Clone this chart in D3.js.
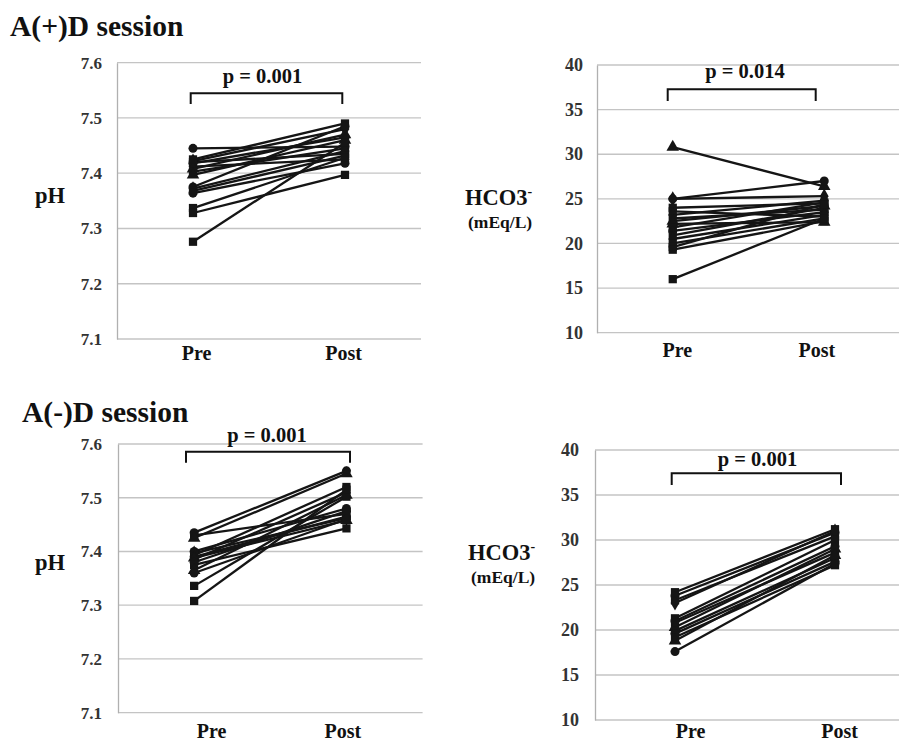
<!DOCTYPE html>
<html><head><meta charset="utf-8">
<script src="https://cdn.jsdelivr.net/npm/d3@7/dist/d3.min.js"></script>
<style>
html,body{margin:0;padding:0;background:#fff;}
svg{display:block;}
svg text{font-family:"Liberation Serif","Times New Roman",Times,"DejaVu Serif",serif;font-weight:bold;}
</style></head>
<body><svg id="chart" width="899" height="742"></svg>
<script>
// ---------- data ----------
const categories = ["Pre", "Post"];
const phTicks = [7.1, 7.2, 7.3, 7.4, 7.5, 7.6];
const hco3Ticks = [10, 15, 20, 25, 30, 35, 40];

// A(+)D session, pH
const plusPhPre  = [7.445, 7.425, 7.422, 7.420, 7.418, 7.412, 7.408, 7.403, 7.397, 7.375, 7.372, 7.368, 7.364, 7.337, 7.328, 7.276];
const plusPhPost = [7.448, 7.490, 7.480, 7.435, 7.465, 7.425, 7.470, 7.445, 7.460, 7.485, 7.440, 7.432, 7.418, 7.428, 7.397, 7.455];
const plusPhMarkers = ["circle","square","diamond","square","circle","diamond","triangle","square","triangle","circle","diamond","square","circle","square","square","square"];

// A(+)D session, HCO3-
const plusHco3Pre  = [30.8, 25.0, 25.0, 24.0, 23.6, 23.2, 22.8, 22.5, 22.2, 21.8, 21.4, 20.9, 20.5, 20.0, 19.6, 19.3, 16.0];
const plusHco3Post = [26.4, 27.0, 25.3, 24.5, 23.0, 24.8, 23.8, 24.2, 22.4, 24.6, 23.5, 24.0, 23.2, 22.8, 24.4, 22.5, 22.8];
const plusHco3Markers = ["triangle","circle","diamond","square","square","diamond","square","triangle","triangle","square","circle","square","diamond","square","square","square","square"];

// A(-)D session, pH
const minusPhPre  = [7.435, 7.430, 7.425, 7.400, 7.397, 7.393, 7.390, 7.388, 7.385, 7.380, 7.375, 7.365, 7.360, 7.336, 7.308];
const minusPhPost = [7.550, 7.470, 7.545, 7.480, 7.462, 7.520, 7.465, 7.458, 7.510, 7.475, 7.443, 7.505, 7.460, 7.502, 7.515];
const minusPhMarkers = ["circle","square","triangle","circle","diamond","square","circle","triangle","diamond","circle","square","triangle","circle","square","square"];

// A(-)D session, HCO3-
const minusHco3Pre  = [24.2, 23.8, 23.3, 23.0, 21.3, 21.0, 20.8, 20.3, 19.9, 19.6, 19.2, 18.8, 17.6];
const minusHco3Post = [31.2, 30.8, 30.4, 31.0, 30.0, 29.3, 28.6, 29.0, 28.0, 27.6, 27.2, 28.3, 27.4];
const minusHco3Markers = ["square","circle","square","diamond","square","circle","square","triangle","square","circle","square","triangle","circle"];

const sessionTitles = ["A(+)D session", "A(-)D session"];
const pLabels = ["p = 0.001", "p = 0.014", "p = 0.001", "p = 0.001"];

// ---------- layout ----------
const panels = [
  {pre: plusPhPre, post: plusPhPost, markers: plusPhMarkers, ticks: phTicks, fmt: ".1f", label: "pH", p: pLabels[0], tickSize: 17,
   x0: 117, x1: 421, yTop: 62.7, yBot: 339, tickX: 102, catY: 360, catDx: [3, -2],
   labX: 35, labY: 203, pX: 262.5, pY: 83, brL: 190.7, brR: 342.3, brT: 93.3, brB: 104},
  {pre: plusHco3Pre, post: plusHco3Post, markers: plusHco3Markers, ticks: hco3Ticks, fmt: "d", label: "HCO3", p: pLabels[1], tickSize: 18,
   x0: 597, x1: 900, yTop: 65, yBot: 332.7, tickX: 583, catY: 357, catDx: [4, -8],
   labX: 465, labY: 205, pX: 745, pY: 78, brL: 667.7, brR: 815.7, brT: 89.3, brB: 101},
  {pre: minusPhPre, post: minusPhPost, markers: minusPhMarkers, ticks: phTicks, fmt: ".1f", label: "pH", p: pLabels[2], tickSize: 17,
   x0: 118, x1: 422.6, yTop: 444, yBot: 712.7, tickX: 102, catY: 738, catDx: [17, -4],
   labX: 35, labY: 570, pX: 267, pY: 441.7, brL: 186, brR: 350, brT: 451.7, brB: 462.7},
  {pre: minusHco3Pre, post: minusHco3Post, markers: minusHco3Markers, ticks: hco3Ticks, fmt: "d", label: "HCO3", p: pLabels[3], tickSize: 18,
   x0: 595, x1: 915, yTop: 450, yBot: 720, tickX: 579, catY: 738, catDx: [15, 4],
   labX: 468, labY: 560, pX: 757.5, pY: 466, brL: 671.7, brR: 841, brT: 473.3, brB: 485}
];

const svg = d3.select("#chart");
const symbolTypes = {circle: d3.symbolCircle, square: d3.symbolSquare, triangle: d3.symbolTriangle, diamond: d3.symbolDiamond};
const symbolSizes = {circle: 64, square: 68, triangle: 68, diamond: 66};

// titles
svg.append("text").attr("x", 10).attr("y", 36).attr("font-size", 29.5).attr("fill", "#111").text(sessionTitles[0]);
svg.append("text").attr("x", 22).attr("y", 422).attr("font-size", 29.5).attr("fill", "#111").text(sessionTitles[1]);

panels.forEach(P => {
  const g = svg.append("g");
  const x = d3.scalePoint().domain(categories).range([P.x0, P.x1]).padding(0.5);
  const y = d3.scaleLinear().domain([P.ticks[0], P.ticks[P.ticks.length - 1]]).range([P.yBot, P.yTop]);

  // gridlines
  g.selectAll(".grid").data(P.ticks).join("line")
    .attr("x1", P.x0).attr("x2", P.x1)
    .attr("y1", d => y(d)).attr("y2", d => y(d))
    .attr("stroke", "#c4c4c4").attr("stroke-width", 1.3);

  // y axis
  const yAxis = d3.axisLeft(y).tickValues(P.ticks).tickFormat(d3.format(P.fmt)).tickSize(0).tickPadding(P.x0 - P.tickX);
  const ya = g.append("g").attr("transform", `translate(${P.x0},0)`).call(yAxis);
  ya.attr("font-family", null).attr("font-size", null);
  ya.select(".domain").attr("stroke", "#b0b0b0").attr("stroke-width", 1.3);
  ya.selectAll("text").attr("font-size", P.tickSize).attr("fill", "#333");

  // x axis labels
  const xAxis = d3.axisBottom(x).tickSize(0).tickPadding(0);
  const xa = g.append("g").attr("transform", `translate(0,${P.catY})`).call(xAxis);
  xa.attr("font-family", null).attr("font-size", null);
  xa.select(".domain").remove();
  xa.selectAll("text").attr("font-size", 20).attr("fill", "#111").attr("dy", 0).attr("y", 0)
    .attr("dx", (d, i) => P.catDx[i]);

  // y label
  if (P.label === "pH") {
    g.append("text").attr("x", P.labX).attr("y", P.labY).attr("font-size", 22.5).attr("fill", "#111").text("pH");
  } else {
    const t = g.append("text").attr("x", P.labX).attr("y", P.labY).attr("font-size", 22.5).attr("fill", "#111");
    t.append("tspan").text("HCO3");
    t.append("tspan").attr("font-size", 14).attr("dy", -9).text("-");
    g.append("text").attr("x", P.labX + 3).attr("y", P.labY + 23).attr("font-size", 17.5).attr("fill", "#111").text("(mEq/L)");
  }

  // bracket + p value
  g.append("path")
    .attr("d", `M${P.brL},${P.brB}V${P.brT}H${P.brR}V${P.brB}`)
    .attr("fill", "none").attr("stroke", "#111").attr("stroke-width", 2);
  g.append("text").attr("x", P.pX).attr("y", P.pY).attr("text-anchor", "middle")
    .attr("font-size", 20.5).attr("fill", "#111").text(P.p);

  // data
  const rows = P.pre.map((v, i) => ({pre: v, post: P.post[i], m: P.markers[i]}));
  g.selectAll(".pair").data(rows).join("line")
    .attr("x1", x("Pre")).attr("x2", x("Post"))
    .attr("y1", d => y(d.pre)).attr("y2", d => y(d.post))
    .attr("stroke", "#151515").attr("stroke-width", 2.3);
  const pts = rows.flatMap(d => [{c: "Pre", v: d.pre, m: d.m}, {c: "Post", v: d.post, m: d.m}]);
  g.selectAll(".pt").data(pts).join("path")
    .attr("transform", d => `translate(${x(d.c)},${y(d.v)})`)
    .attr("d", d => d3.symbol().type(symbolTypes[d.m]).size(symbolSizes[d.m])())
    .attr("fill", "#151515");
});
</script></body></html>
